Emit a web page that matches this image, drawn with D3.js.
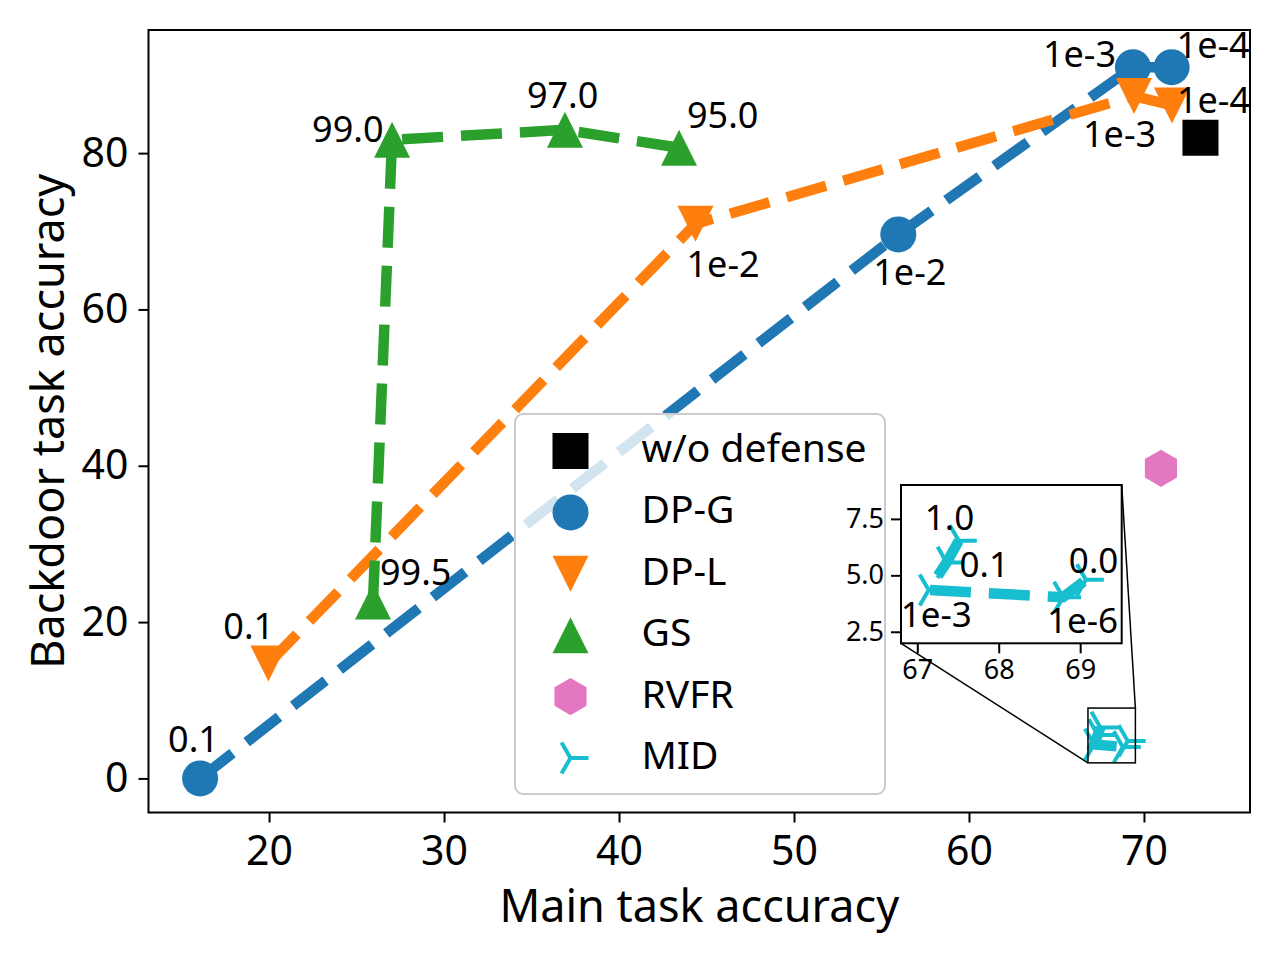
<!DOCTYPE html>
<html>
<head>
<meta charset="utf-8">
<script src="https://cdn.jsdelivr.net/npm/d3@7"></script>
<style>
  body { margin: 0; background: #fff; }
  svg { display: block; font-family: "Noto Sans", sans-serif; }
</style>
</head>
<body>
<svg id="chart" width="1280" height="960"></svg>
<script>
// data
const noDefX = [73.23];
const noDefY = [81.96];

const dpgX = [16.06, 55.96, 69.37, 71.58];
const dpgY = [0.0, 69.6, 91.0, 91.0];
const dpgLabels = ['0.1', '1e-2', '1e-3', '1e-4'];

const dplX = [19.96, 44.37, 69.43, 71.6];
const dplY = [14.7, 70.95, 87.3, 86.1];
const dplLabels = ['0.1', '1e-2', '1e-3', '1e-4'];

const gsX = [25.94, 27.03, 36.91, 43.43];
const gsY = [22.65, 81.7, 82.98, 80.68];
const gsLabels = ['99.5', '99.0', '97.0', '95.0'];

const rvfrX = [70.97];
const rvfrY = [39.67];

const midX = [67.51, 67.36, 67.14, 68.79, 69.07];
const midY = [6.53, 5.57, 4.35, 4.03, 4.80];
const midLabels = ['1.0', '0.1', '1e-3', '1e-6', '0.0'];

const xTicks = [20, 30, 40, 50, 60, 70];
const yTicks = [0, 20, 40, 60, 80];
const insetXTicks = [67, 68, 69];
const insetYTicks = [2.5, 5.0, 7.5];
const insetXDomain = [66.8, 69.51];
const insetYDomain = [1.99, 9.0];

const legendNames = ['w/o defense', 'DP-G', 'DP-L', 'GS', 'RVFR', 'MID'];

// label placement (pixel offsets from the marker: text left, baseline)
const labelOffsets = {
  dpg: [[-32, -26], [-25, 51], [-90, 0], [5, -9]],
  dpl: [[-45, -25], [-9, 53], [-51, 51], [5, 8]],
  gs: [[7, -16], [-80, 2.5], [-38, -21.5], [8, -19.5]],
  mid: [[-34, -11], [13, 15], [-28, 37], [-16, 36], [-17, -7]]
};

const colors = {
  noDef: '#000000', dpg: '#1f77b4', dpl: '#ff7f0e',
  gs: '#2ca02c', rvfr: '#e377c2', mid: '#17becf'
};

const svg = d3.select('#chart');

const plot = { left: 148.5, right: 1250, top: 30, bottom: 812.5 };
const x = d3.scaleLinear().domain([13.11, 76.06]).range([plot.left, plot.right]);
const y = d3.scaleLinear().domain([-4.36, 95.75]).range([plot.bottom, plot.top]);

const inset = { left: 901, right: 1121.7, top: 485, bottom: 643.3 };
const ix = d3.scaleLinear().domain(insetXDomain).range([inset.left, inset.right]);
const iy = d3.scaleLinear().domain(insetYDomain).range([inset.bottom, inset.top]);

// marker shapes, size in px
function markerPath(shape, s) {
  const h = s / 2;
  if (shape === 'square') return `M${-h},${-h}H${h}V${h}H${-h}Z`;
  if (shape === 'circle') return `M${h},0A${h},${h} 0 1,1 ${-h},0A${h},${h} 0 1,1 ${h},0Z`;
  if (shape === 'tri-up') return `M0,${-h}L${h},${h}L${-h},${h}Z`;
  if (shape === 'tri-down') return `M0,${h}L${h},${-h}L${-h},${-h}Z`;
  if (shape === 'hexagon') {
    const r = h * 1.03;
    const pts = d3.range(6).map(i => {
      const a = -Math.PI / 2 + i * Math.PI / 3;
      return [r * Math.cos(a), r * Math.sin(a)];
    });
    return 'M' + pts.map(p => p.join(',')).join('L') + 'Z';
  }
  if (shape === 'tri-right') {
    const c = Math.cos(Math.PI / 3) * h, sn = Math.sin(Math.PI / 3) * h;
    return `M0,0L${h},0M0,0L${-c},${-sn}M0,0L${-c},${sn}`;
  }
}

function drawMarkers(g, xs, ys, sx, sy, shape, color) {
  const pts = xs.map((v, i) => [sx(v), sy(ys[i])]);
  const isLine = shape === 'tri-right';
  g.selectAll(null)
    .data(pts)
    .enter()
    .append('path')
    .attr('transform', d => `translate(${d[0]},${d[1]})`)
    .attr('d', markerPath(shape, 36))
    .attr('fill', isLine ? 'none' : color)
    .attr('stroke', isLine ? color : 'none')
    .attr('stroke-width', isLine ? 4 : 0);
}

function drawSeries(g, xs, ys, sx, sy, shape, color, dashed) {
  if (dashed) {
    const line = d3.line().x(d => sx(d[0])).y(d => sy(d[1]));
    g.append('path')
      .datum(xs.map((v, i) => [v, ys[i]]))
      .attr('d', line)
      .attr('fill', 'none')
      .attr('stroke', color)
      .attr('stroke-width', 10.5)
      .attr('stroke-dasharray', '41,18');
  }
  drawMarkers(g, xs, ys, sx, sy, shape, color);
}

function drawLabels(g, xs, ys, sx, sy, labels, offsets, size) {
  g.selectAll(null)
    .data(labels)
    .enter()
    .append('text')
    .attr('x', (d, i) => sx(xs[i]) + offsets[i][0])
    .attr('y', (d, i) => sy(ys[i]) + offsets[i][1])
    .attr('font-size', size)
    .attr('fill', '#000')
    .text(d => d);
}

const defs = svg.append('defs');
defs.append('clipPath').attr('id', 'clipMain')
  .append('rect')
  .attr('x', plot.left).attr('y', plot.top)
  .attr('width', plot.right - plot.left).attr('height', plot.bottom - plot.top);
defs.append('clipPath').attr('id', 'clipInset')
  .append('rect')
  .attr('x', inset.left).attr('y', inset.top)
  .attr('width', inset.right - inset.left).attr('height', inset.bottom - inset.top);

// axes
const xAxis = svg.append('g')
  .attr('transform', `translate(0,${plot.bottom})`)
  .call(d3.axisBottom(x).tickValues(xTicks).tickSize(10).tickPadding(13).tickFormat(d3.format('d')));
const yAxis = svg.append('g')
  .attr('transform', `translate(${plot.left},0)`)
  .call(d3.axisLeft(y).tickValues(yTicks).tickSize(10).tickPadding(10).tickFormat(d3.format('d')));
[xAxis, yAxis].forEach(a => {
  a.select('.domain').remove();
  a.selectAll('line').attr('stroke', '#000').attr('stroke-width', 2);
  a.selectAll('text').attr('font-size', 41).attr('fill', '#000')
    .style('font-family', '"Noto Sans", sans-serif');
});

svg.append('text')
  .attr('x', (plot.left + plot.right) / 2)
  .attr('y', 922)
  .attr('text-anchor', 'middle')
  .attr('font-size', 45)
  .text('Main task accuracy');
svg.append('text')
  .attr('transform', `translate(64,${(plot.top + plot.bottom) / 2}) rotate(-90)`)
  .attr('text-anchor', 'middle')
  .attr('font-size', 45)
  .text('Backdoor task accuracy');

// main plot series
const main = svg.append('g').attr('clip-path', 'url(#clipMain)');
drawSeries(main, noDefX, noDefY, x, y, 'square', colors.noDef, false);
drawSeries(main, dpgX, dpgY, x, y, 'circle', colors.dpg, true);
drawSeries(main, dplX, dplY, x, y, 'tri-down', colors.dpl, true);
drawSeries(main, gsX, gsY, x, y, 'tri-up', colors.gs, true);
drawSeries(main, rvfrX, rvfrY, x, y, 'hexagon', colors.rvfr, false);
drawSeries(main, midX, midY, x, y, 'tri-right', colors.mid, true);

const labelsG = svg.append('g');
drawLabels(labelsG, dpgX, dpgY, x, y, dpgLabels, labelOffsets.dpg, 36);
drawLabels(labelsG, dplX, dplY, x, y, dplLabels, labelOffsets.dpl, 36);
drawLabels(labelsG, gsX, gsY, x, y, gsLabels, labelOffsets.gs, 36);

// frame
svg.append('rect')
  .attr('x', plot.left).attr('y', plot.top)
  .attr('width', plot.right - plot.left).attr('height', plot.bottom - plot.top)
  .attr('fill', 'none').attr('stroke', '#000').attr('stroke-width', 2);

// legend
const legend = svg.append('g');
legend.append('rect')
  .attr('x', 515).attr('y', 414).attr('width', 370).attr('height', 380)
  .attr('rx', 8)
  .attr('fill', '#fff').attr('fill-opacity', 0.8)
  .attr('stroke', '#cccccc').attr('stroke-width', 2);
const legendShapes = ['square', 'circle', 'tri-down', 'tri-up', 'hexagon', 'tri-right'];
const legendColors = [colors.noDef, colors.dpg, colors.dpl, colors.gs, colors.rvfr, colors.mid];
const rows = legend.selectAll('.row')
  .data(legendNames)
  .enter()
  .append('g')
  .attr('class', 'row')
  .attr('transform', (d, i) => `translate(0,${451 + i * 61.4})`);
rows.append('path')
  .attr('transform', 'translate(570.5,0)')
  .attr('d', (d, i) => markerPath(legendShapes[i], 36))
  .attr('fill', (d, i) => legendShapes[i] === 'tri-right' ? 'none' : legendColors[i])
  .attr('stroke', (d, i) => legendShapes[i] === 'tri-right' ? legendColors[i] : 'none')
  .attr('stroke-width', 4);
rows.append('text')
  .attr('x', 641.5)
  .attr('y', 11)
  .attr('font-size', 39)
  .text(d => d);

// zoom box and connectors
svg.append('rect')
  .attr('x', x(insetXDomain[0])).attr('y', y(insetYDomain[1]))
  .attr('width', x(insetXDomain[1]) - x(insetXDomain[0]))
  .attr('height', y(insetYDomain[0]) - y(insetYDomain[1]))
  .attr('fill', 'none').attr('stroke', '#000').attr('stroke-width', 1.5);
svg.append('line')
  .attr('x1', inset.left).attr('y1', inset.bottom)
  .attr('x2', x(insetXDomain[0])).attr('y2', y(insetYDomain[0]))
  .attr('stroke', '#000').attr('stroke-width', 1.5);
svg.append('line')
  .attr('x1', inset.right).attr('y1', inset.top)
  .attr('x2', x(insetXDomain[1])).attr('y2', y(insetYDomain[1]))
  .attr('stroke', '#000').attr('stroke-width', 1.5);

// inset
svg.append('rect')
  .attr('x', inset.left).attr('y', inset.top)
  .attr('width', inset.right - inset.left).attr('height', inset.bottom - inset.top)
  .attr('fill', '#fff');
const insetG = svg.append('g').attr('clip-path', 'url(#clipInset)');
drawSeries(insetG, midX, midY, ix, iy, 'tri-right', colors.mid, true);
drawLabels(svg.append('g'), midX, midY, ix, iy, midLabels, labelOffsets.mid, 35);

const ixAxis = svg.append('g')
  .attr('transform', `translate(0,${inset.bottom})`)
  .call(d3.axisBottom(ix).tickValues(insetXTicks).tickSize(10).tickPadding(7).tickFormat(d3.format('d')));
const iyAxis = svg.append('g')
  .attr('transform', `translate(${inset.left},0)`)
  .call(d3.axisLeft(iy).tickValues(insetYTicks).tickSize(10).tickPadding(7).tickFormat(d3.format('.1f')));
[ixAxis, iyAxis].forEach(a => {
  a.select('.domain').remove();
  a.selectAll('line').attr('stroke', '#000').attr('stroke-width', 2);
  a.selectAll('text').attr('font-size', 27).attr('fill', '#000')
    .style('font-family', '"Noto Sans", sans-serif');
});
svg.append('rect')
  .attr('x', inset.left).attr('y', inset.top)
  .attr('width', inset.right - inset.left).attr('height', inset.bottom - inset.top)
  .attr('fill', 'none').attr('stroke', '#000').attr('stroke-width', 2);
</script>
</body>
</html>
